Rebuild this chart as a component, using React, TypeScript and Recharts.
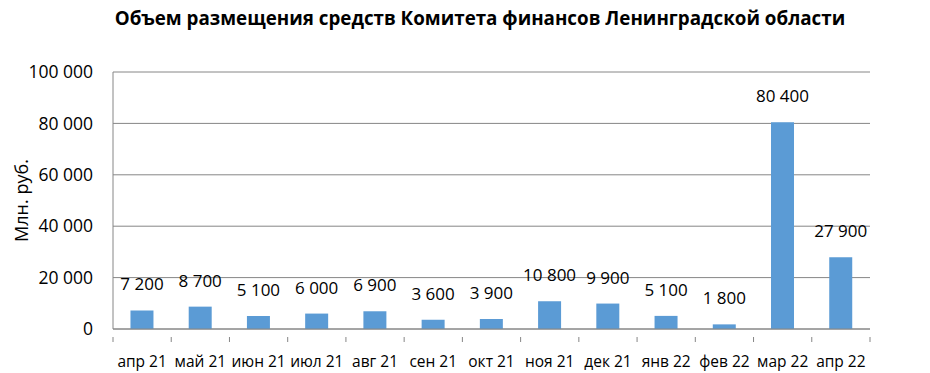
import { BarChart, Bar, XAxis, YAxis, CartesianGrid, LabelList, Label } from 'recharts'

const months = ['апр 21', 'май 21', 'июн 21', 'июл 21', 'авг 21', 'сен 21', 'окт 21', 'ноя 21', 'дек 21', 'янв 22', 'фев 22', 'мар 22', 'апр 22']
const volumes = [7200, 8700, 5100, 6000, 6900, 3600, 3900, 10800, 9900, 5100, 1800, 80400, 27900]
const yTicks = [0, 20000, 40000, 60000, 80000, 100000]

const data = months.map((m, i) => ({ month: m, value: volumes[i] }))

const font = "'Open Sans', sans-serif"
const fmt = (v: number) => String(v).replace(/\B(?=(\d{3})+(?!\d))/g, ' ')

const MonthTick = (props: any) => {
  const { x, y, payload, index } = props
  const half = payload.offset || 0
  const last = index === months.length - 1
  return (
    <g>
      <line x1={x - half} y1={y} x2={x - half} y2={y + 5} stroke="#868686" />
      {last && <line x1={x + half} y1={y} x2={x + half} y2={y + 5} stroke="#868686" />}
      <text x={x} y={y + 26} textAnchor="middle" dominantBaseline="middle" fontSize={15.5} fill="#000" fontFamily={font}>
        {payload.value}
      </text>
    </g>
  )
}

const ValueLabel = (props: any) => {
  const { x, y, width, value } = props
  return (
    <text x={x + width / 2} y={y - 20} textAnchor="middle" fontSize={17} fill="#000" fontFamily={font}>
      {fmt(value)}
    </text>
  )
}

export default function App() {
  return (
    <div style={{ position: 'fixed', left: 0, top: 0, width: 930, height: 373, background: '#fff' }}>
      <div style={{ position: 'absolute', left: 0, width: 960, top: 5, textAlign: 'center', fontFamily: font, fontWeight: 700, fontSize: 18.8, color: '#000' }}>
        Объем размещения средств Комитета финансов Ленинградской области
      </div>
      <BarChart width={930} height={373} data={data} margin={{ top: 72, right: 60, bottom: 0, left: 0 }} barCategoryGap="30%">
        <CartesianGrid vertical={false} stroke="#868686" />
        <XAxis dataKey="month" height={44} stroke="#868686" tickLine={false} tick={<MonthTick />} interval={0} />
        <YAxis
          width={113}
          domain={[0, 100000]}
          ticks={yTicks}
          tickFormatter={fmt}
          stroke="#868686"
          tickLine={false}
          tickSize={0}
          tickMargin={20}
          tick={{ fill: '#000', fontSize: 17.5, fontFamily: font }}
        >
          <Label value="Млн. руб." angle={-90} position="insideLeft" offset={22} style={{ fill: '#000', fontSize: 18, fontFamily: font, textAnchor: 'middle' }} />
        </YAxis>
        <Bar dataKey="value" fill="#5B9BD5" isAnimationActive={false}>
          <LabelList dataKey="value" content={<ValueLabel />} />
        </Bar>
      </BarChart>
    </div>
  )
}
